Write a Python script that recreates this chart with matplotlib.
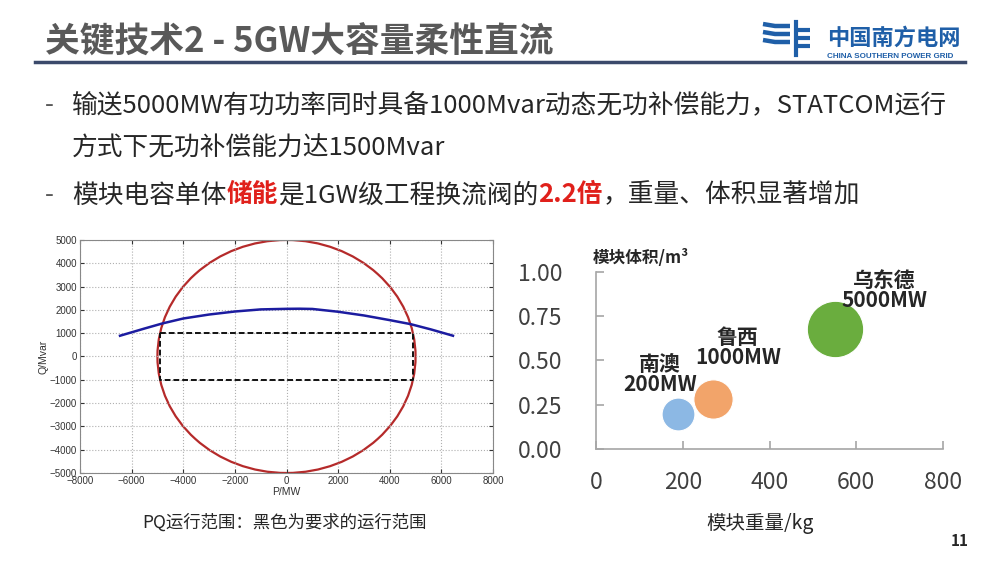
import matplotlib as mpl
mpl.use('Agg')
import matplotlib.pyplot as plt
from matplotlib.patches import Ellipse
from matplotlib.offsetbox import TextArea, HPacker, AnnotationBbox

plt.rcParams['font.family'] = ['Noto Sans CJK SC', 'DejaVu Sans']

# ---- data ----
# left: PQ operating range
circle_radius_p = 5000
circle_radius_q = 5000
curve_p = [-6450, -5500, -4800, -4000, -3000, -2000, -1000, 0, 500, 1000,
           2000, 3000, 4000, 4800, 5600, 6450]
curve_q = [890, 1200, 1420, 1630, 1800, 1930, 2020, 2045, 2050, 2040,
           1920, 1760, 1560, 1390, 1160, 890]
box_p = [-4900, 4900, 4900, -4900, -4900]
box_q = [1000, 1000, -1000, -1000, 1000]

# right: module bubbles
projects = ['南澳\n200MW', '鲁西\n1000MW', '乌东德\n5000MW']
weight_kg = [190, 270, 550]
volume_m3 = [0.20, 0.28, 0.68]
bubble_size = [560, 800, 1650]
bubble_colors = ['#8CB8E4', '#F2A46A', '#6AAD3E']
label_pos = [(148, 0.42), (327, 0.575), (665, 0.895)]

fig = plt.figure(figsize=(10, 5.62), dpi=100)
fig.patch.set_facecolor('white')

# ---- left chart ----
ax1 = fig.add_axes([0.080, 0.1584, 0.413, 0.4146])
ax1.add_patch(Ellipse((0, 0), 2 * circle_radius_p, 2 * circle_radius_q,
                      fill=False, edgecolor='#B52A2A', lw=1.6))
ax1.plot(curve_p, curve_q, color='#1C1CA0', lw=1.8)
ax1.plot(box_p, box_q, color='#111111', lw=1.4, linestyle=(0, (3, 1.5)))
ax1.set_xlim(-8000, 8000)
ax1.set_ylim(-5000, 5000)
ax1.set_xticks(range(-8000, 8001, 2000))
ax1.set_yticks(range(-5000, 5001, 1000))
ax1.grid(True, linestyle=':', color='#B0B0B0', lw=0.8)
ax1.tick_params(labelsize=7, direction='in', length=3, colors='#333333',
                top=True, right=True, pad=2)
for lab in ax1.get_xticklabels() + ax1.get_yticklabels():
    lab.set_family('Liberation Sans')
for s in ax1.spines.values():
    s.set_color('#888888')
    s.set_linewidth(0.8)
ax1.set_xlabel('P/MW', fontsize=7.5, family='Liberation Sans', labelpad=1, color='#333333')
ax1.set_ylabel('Q/Mvar', fontsize=7.5, family='Liberation Sans', labelpad=1, color='#333333')

# ---- right chart ----
ax2 = fig.add_axes([0.596, 0.2011, 0.347, 0.315])
for i in range(len(weight_kg)):
    ax2.scatter(weight_kg[i], volume_m3[i], s=bubble_size[i],
                color=bubble_colors[i], edgecolor='white', lw=0.8, zorder=3)
    ax2.text(label_pos[i][0], label_pos[i][1], projects[i], ha='center',
             va='center', fontsize=15, fontweight='bold', color='#262626',
             linespacing=0.95, zorder=4)
ax2.set_xlim(0, 800)
ax2.set_ylim(0, 1.0)
ax2.set_xticks([0, 200, 400, 600, 800])
ax2.set_yticks([0, 0.25, 0.5, 0.75, 1.0])
ax2.set_yticklabels(['%.2f' % v for v in [0, 0.25, 0.5, 0.75, 1.0]])
ax2.spines['top'].set_visible(False)
ax2.spines['right'].set_visible(False)
for s in ['left', 'bottom']:
    ax2.spines[s].set_color('#A6A6A6')
    ax2.spines[s].set_linewidth(1.2)
ax2.tick_params(axis='both', direction='in', length=6, width=1.2,
                color='#A6A6A6', labelsize=16.5, labelcolor='#404040')
ax2.tick_params(axis='y', pad=24)
ax2.tick_params(axis='x', pad=16)
ax2.patch.set_alpha(0)

# ---- slide decorations in pixel coords ----
bg = fig.add_axes([0, 0, 1, 1])
bg.set_xlim(0, 1000)
bg.set_ylim(562, 0)
bg.axis('off')

bg.text(45, 42, '关键技术2 - 5GW大容量柔性直流', fontsize=25, fontweight='bold',
        color='#595959', va='center', ha='left')
bg.plot([35, 965], [62, 62], color='#3B4A6B', lw=2.5)

# logo
logo_c = '#1F5FA8'
for y in [26, 34, 42]:
    bg.plot([763, 775, 790], [y - 2, y, y], color=logo_c, lw=3.2,
            solid_capstyle='butt')
bg.plot([796, 796], [22, 55], color=logo_c, lw=3)
for y in [30, 38, 46]:
    bg.plot([798, 810], [y, y], color=logo_c, lw=3, solid_capstyle='butt')
bg.text(827, 38, '中国南方电网', fontsize=16, fontweight='bold', color=logo_c,
        va='center', ha='left')
bg.text(827, 57, 'CHINA SOUTHERN POWER GRID', fontsize=5.8, fontweight='bold',
        color=logo_c, va='center', ha='left', family='Liberation Sans')

body_c = '#262626'
fs = 18.5
bg.text(45, 105, '-', fontsize=fs, color='#595959', va='center')
bg.text(72, 105, '输送5000MW有功功率同时具备1000Mvar动态无功补偿能力，STATCOM运行',
        fontsize=fs, color=body_c, va='center')
bg.text(72, 148, '方式下无功补偿能力达1500Mvar', fontsize=fs, color=body_c,
        va='center')
bg.text(45, 195, '-', fontsize=fs, color='#595959', va='center')

parts = [('模块电容单体', body_c, 'normal'), ('储能', '#E0201B', 'bold'),
         ('是1GW级工程换流阀的', body_c, 'normal'), ('2.2倍', '#E0201B', 'bold'),
         ('，重量、体积显著增加', body_c, 'normal')]
boxes = [TextArea(t, textprops=dict(fontsize=fs, color=c, fontweight=w))
         for t, c, w in parts]
pack = HPacker(children=boxes, pad=0, sep=0, align='baseline')
bg.add_artist(AnnotationBbox(pack, (72, 195), xycoords='data',
                             box_alignment=(0, 0.5), frameon=False, pad=0))

bg.text(285, 523, 'PQ运行范围：黑色为要求的运行范围', fontsize=12.5,
        color=body_c, ha='center', va='center')
bg.text(593, 258, '模块体积/m³', fontsize=12, fontweight='bold',
        color=body_c, ha='left', va='center')
bg.text(760, 524, '模块重量/kg', fontsize=14, color=body_c, ha='center',
        va='center')
bg.text(960, 541, '11', fontsize=11, fontweight='bold', color=body_c,
        ha='center', va='center')

fig.savefig('out.png', dpi=100, facecolor='white')
